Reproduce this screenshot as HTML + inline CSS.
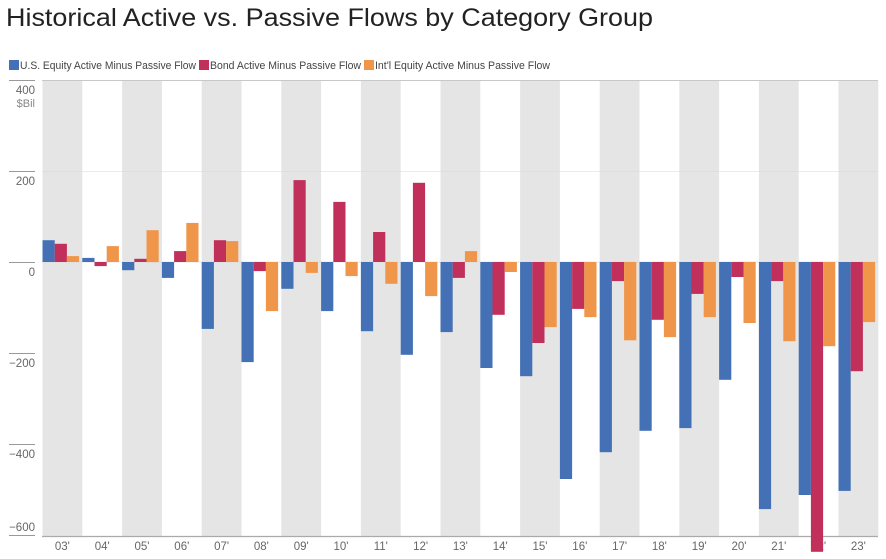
<!DOCTYPE html>
<html><head><meta charset="utf-8"><style>
body{margin:0;background:#fff;width:886px;height:559px;overflow:hidden}
svg{display:block}
text{font-family:"Liberation Sans",sans-serif}
</style></head><body>
<svg id="c" width="886" height="559" xmlns="http://www.w3.org/2000/svg">
<text x="6" y="26" font-size="25" fill="#222" textLength="647" lengthAdjust="spacingAndGlyphs">Historical Active vs. Passive Flows by Category Group</text>
<rect x="9" y="60" width="10" height="10" fill="#4470b5"/>
<text x="20" y="69" font-size="11" fill="#444" textLength="176" lengthAdjust="spacingAndGlyphs">U.S. Equity Active Minus Passive Flow</text>
<rect x="199" y="60" width="10" height="10" fill="#c0305a"/>
<text x="210" y="69" font-size="11" fill="#444" textLength="151" lengthAdjust="spacingAndGlyphs">Bond Active Minus Passive Flow</text>
<rect x="364" y="60" width="10" height="10" fill="#f0964a"/>
<text x="375" y="69" font-size="11" fill="#444" textLength="175" lengthAdjust="spacingAndGlyphs">Int'l Equity Active Minus Passive Flow</text>
<g id="g"></g>
</svg>
<script>
var g=document.getElementById('g'),s='';
var x0=42.5,P=39.8,y0=262,k=0.455;
var d=[[48,40,13],[9,-9,35],[-18,7,70],[-35,24,86],[-147,48,46],[-220,-20,-108],[-59,180,-24],[-108,132,-31],[-152,66,-48],[-204,174,-75],[-154,-35,24],[-233,-116,-22],[-251,-178,-143],[-477,-103,-121],[-418,-42,-172],[-371,-127,-165],[-365,-70,-121],[-259,-33,-134],[-543,-42,-174],[-512,-637,-185],[-503,-240,-132]];
var col=['#4470b5','#c0305a','#f0964a'];
for(var i=0;i<21;i++){var bx=x0+i*P;
 if(i%2==0)s+='<rect x="'+bx+'" y="81" width="'+P+'" height="455" fill="#e5e5e5"/>';}
s+='<line x1="42" y1="80.5" x2="878" y2="80.5" stroke="#c8c8c8"/>';
s+='<line x1="42" y1="171.5" x2="878" y2="171.5" stroke="#d8d8d8" stroke-width="0.6"/>';
s+='<line x1="42" y1="262" x2="878" y2="262" stroke="#d0d0d0" stroke-width="0.6"/>';
[[400,80],[200,171],[0,262],[-200,353],[-400,444],[-600,535]].forEach(function(t){
 s+='<line x1="9" y1="'+(t[1]+0.5)+'" x2="35" y2="'+(t[1]+0.5)+'" stroke="#999" stroke-width="1"/>';
 var lbl=t[0]<0?'\u2212'+(-t[0]):''+t[0];
 var ty=t[0]==-600?t[1]-4:t[1]+14;
 s+='<text x="35" y="'+ty+'" font-size="11.5" fill="#666" text-anchor="end">'+lbl+'</text>';});
s+='<text x="35" y="107" font-size="11" fill="#888" text-anchor="end">$Bil</text>';
for(var i=0;i<21;i++){var bx=x0+i*P;
 var yr=(i+3<10?'0':'')+(i+3)+"'";
 s+='<text x="'+(bx+P/2)+'" y="550" font-size="11.5" fill="#666" text-anchor="middle">'+yr+'</text>';}
s+='<line x1="42" y1="536.5" x2="878" y2="536.5" stroke="#aaa" stroke-width="1.2"/>';
for(var i=0;i<21;i++){var bx=x0+i*P;
 for(var j=0;j<3;j++){var v=d[i][j],h=Math.abs(v)*k,y=v>0?y0-h:y0;
  s+='<rect x="'+(bx+j*12.2).toFixed(1)+'" y="'+y.toFixed(1)+'" width="12.2" height="'+h.toFixed(1)+'" fill="'+col[j]+'"/>';}}
g.innerHTML=s;
</script>
</body></html>
